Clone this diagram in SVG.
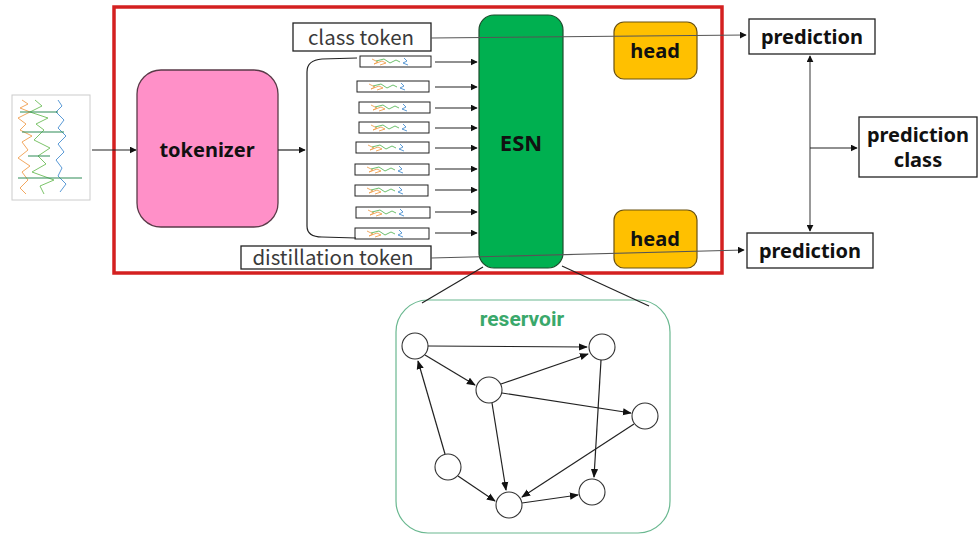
<svg xmlns="http://www.w3.org/2000/svg" width="978" height="535" viewBox="0 0 978 535">
<defs>
<style>
.ln{stroke:#222;stroke-width:1.2;fill:none}
.gl{stroke:#555;stroke-width:1.2;fill:none}
.box{fill:#fff;stroke:#222;stroke-width:1.3}
.tok{fill:#fff;stroke:#222;stroke-width:1}
.lbl{font-family:"Noto Sans","Liberation Sans",sans-serif;font-weight:bold;fill:#111;text-anchor:middle}
.reg{font-family:"Noto Sans CJK JP","Noto Sans",sans-serif;font-size:20.5px;fill:#3a3a3a;text-anchor:middle}
.nd{fill:#fff;stroke:#333;stroke-width:1.1}
</style>
<marker id="ah" viewBox="0 0 10 10" refX="9" refY="5" markerWidth="7" markerHeight="7" orient="auto-start-reverse" markerUnits="userSpaceOnUse">
<path d="M0,0 L10,5 L0,10 z" fill="#111"/>
</marker>
<marker id="ah2" viewBox="0 0 10 10" refX="9" refY="5" markerWidth="9" markerHeight="9" orient="auto-start-reverse" markerUnits="userSpaceOnUse">
<path d="M0,1 L10,5 L0,9 z" fill="#111"/>
</marker>
<symbol id="wave" viewBox="0 0 70 11" width="70" height="11">
<polyline points="12,3 18,6 14,8 22,5 26,7 20,9" fill="none" stroke="#f0a050" stroke-width="0.9"/>
<polyline points="16,5 24,3 30,7 36,4 40,6" fill="none" stroke="#5cb85c" stroke-width="0.9"/>
<polyline points="44,2 47,5 43,7 48,9" fill="none" stroke="#4a90d0" stroke-width="0.9"/>
</symbol>
</defs>
<rect width="978" height="535" fill="#fff"/>

<g id="frame"><rect x="114" y="7" width="608" height="266" fill="none" stroke="#d42020" stroke-width="3.5"/></g>

<g id="input">
<rect x="12" y="95" width="78" height="105" fill="#fff" stroke="#ccc" stroke-width="1"/>
<polyline points="22,100 28,104 20,108 30,112 18,118 26,124 20,130 32,136 22,142 28,150 18,158 30,166 22,172 28,180 20,188 26,194" fill="none" stroke="#f2a860" stroke-width="1"/>
<polyline points="35,100 42,106 30,112 48,118 36,124 44,130 34,140 50,148 38,156 46,164 32,172 54,180 40,186 44,194" fill="none" stroke="#7cc46a" stroke-width="1"/>
<polyline points="58,100 62,106 56,112 64,120 58,128 66,136 58,144 64,152 56,160 62,168 58,176 66,184 60,192" fill="none" stroke="#5a9ad6" stroke-width="1"/>
<path d="M20,112 H58 M22,132 H64 M28,156 H50 M18,178 H82" stroke="#2e8b57" stroke-width="1.2"/>
</g>

<g id="tokenizer">
<rect x="137" y="70" width="141" height="157" rx="24" fill="#ff90c8" stroke="#5a3a48" stroke-width="1.3"/>
<text class="lbl" x="207" y="157" font-size="20">tokenizer</text>
</g>

<g id="class-token"><rect class="box" x="293" y="23" width="138" height="28"/><text class="reg" x="361" y="45">class token</text></g>
<g id="distillation-token"><rect class="box" x="241" y="246" width="190" height="23"/><text class="reg" x="333" y="265">distillation token</text></g>

<g id="tokens">
<rect class="tok" x="360" y="56" width="71" height="11"/><use href="#wave" x="360" y="56"/>
<rect class="tok" x="357" y="81" width="72" height="11"/><use href="#wave" x="357" y="81"/>
<rect class="tok" x="359" y="102" width="71" height="11"/><use href="#wave" x="359" y="102"/>
<rect class="tok" x="359" y="122" width="70" height="11"/><use href="#wave" x="359" y="122"/>
<rect class="tok" x="356" y="142" width="73" height="11"/><use href="#wave" x="356" y="142"/>
<rect class="tok" x="355" y="164" width="74" height="11"/><use href="#wave" x="355" y="164"/>
<rect class="tok" x="355" y="185" width="73" height="11"/><use href="#wave" x="355" y="185"/>
<rect class="tok" x="356" y="207" width="74" height="11"/><use href="#wave" x="356" y="207"/>
<rect class="tok" x="355" y="228" width="74" height="11"/><use href="#wave" x="355" y="228"/>
</g>

<g id="esn">
<rect x="479" y="15" width="84" height="253" rx="15" fill="#00b050" stroke="#1d4d2d" stroke-width="1.2"/>
<text class="lbl" x="521" y="151" font-size="22">ESN</text>
</g>

<g id="head1"><rect x="614" y="22" width="83" height="57" rx="10" fill="#ffc000" stroke="#6b5210" stroke-width="1.2"/><text class="lbl" x="655" y="58" font-size="20">head</text></g>
<g id="head2"><rect x="614" y="210" width="83" height="58" rx="10" fill="#ffc000" stroke="#6b5210" stroke-width="1.2"/><text class="lbl" x="655" y="246" font-size="20">head</text></g>

<g id="prediction1"><rect class="box" x="749" y="19" width="126" height="35"/><text class="lbl" x="812" y="44" font-size="20">prediction</text></g>
<g id="prediction2"><rect class="box" x="747" y="233" width="126" height="35"/><text class="lbl" x="810" y="258" font-size="20">prediction</text></g>
<g id="prediction-class"><rect class="box" x="859" y="117" width="118" height="60"/><text class="lbl" x="918" y="142" font-size="20">prediction</text><text class="lbl" x="918" y="167" font-size="20">class</text></g>

<g id="reservoir">
<rect x="396" y="300" width="274" height="233" rx="32" fill="#fff" stroke="#6ab890" stroke-width="1.2"/>
<text x="522" y="326" font-family="Roboto,'Liberation Sans',sans-serif" font-weight="bold" font-size="21" fill="#3aa86b" text-anchor="middle">reservoir</text>
</g>
<g id="nodes">
<circle id="nA" class="nd" cx="415" cy="346" r="13"/>
<circle id="nB" class="nd" cx="602" cy="347" r="13"/>
<circle id="nC" class="nd" cx="489" cy="390" r="13"/>
<circle id="nD" class="nd" cx="645" cy="416" r="13"/>
<circle id="nE" class="nd" cx="448" cy="467" r="13"/>
<circle id="nF" class="nd" cx="509" cy="505" r="13"/>
<circle id="nG" class="nd" cx="592" cy="492" r="13"/>
</g>

<g id="connectors">
<line class="ln" x1="92" y1="150" x2="136" y2="150" marker-end="url(#ah)"/>
<line class="ln" x1="278" y1="150" x2="305" y2="150" marker-end="url(#ah)"/>
<path class="ln" d="M357,58 L322,59 Q307,60 307,72 L307,226 Q307,237 322,237 L356,238"/>
<line class="ln" x1="435" y1="62" x2="477" y2="62" marker-end="url(#ah)"/>
<line class="ln" x1="435" y1="87" x2="477" y2="87" marker-end="url(#ah)"/>
<line class="ln" x1="435" y1="108" x2="477" y2="108" marker-end="url(#ah)"/>
<line class="ln" x1="435" y1="128" x2="477" y2="128" marker-end="url(#ah)"/>
<line class="ln" x1="435" y1="148" x2="477" y2="148" marker-end="url(#ah)"/>
<line class="ln" x1="435" y1="169" x2="477" y2="169" marker-end="url(#ah)"/>
<line class="ln" x1="435" y1="190" x2="477" y2="190" marker-end="url(#ah)"/>
<line class="ln" x1="435" y1="212" x2="477" y2="212" marker-end="url(#ah)"/>
<line class="ln" x1="435" y1="233" x2="477" y2="233" marker-end="url(#ah)"/>
<line class="gl" x1="431" y1="38" x2="746" y2="35" marker-end="url(#ah)"/>
<line class="gl" x1="431" y1="258" x2="744" y2="250" marker-end="url(#ah)"/>
<line class="gl" x1="810" y1="56" x2="810" y2="231" marker-start="url(#ah)" marker-end="url(#ah)"/>
<line class="ln" x1="810" y1="148" x2="857" y2="148" marker-end="url(#ah)"/>
<line class="ln" x1="483" y1="267" x2="422" y2="303"/>
<line class="ln" x1="562" y1="266" x2="649" y2="306"/>
<line class="ln" x1="428" y1="346" x2="587" y2="347" marker-end="url(#ah2)"/>
<line class="ln" x1="425" y1="355" x2="475" y2="385" marker-end="url(#ah2)"/>
<line class="ln" x1="501" y1="384" x2="588" y2="354" marker-end="url(#ah2)"/>
<line class="ln" x1="502" y1="393" x2="631" y2="413" marker-end="url(#ah2)"/>
<line class="ln" x1="492" y1="403" x2="506" y2="490" marker-end="url(#ah2)"/>
<line class="ln" x1="601" y1="360" x2="594" y2="477" marker-end="url(#ah2)"/>
<line class="ln" x1="634" y1="424" x2="522" y2="497" marker-end="url(#ah2)"/>
<line class="ln" x1="445" y1="454" x2="418" y2="361" marker-end="url(#ah2)"/>
<line class="ln" x1="458" y1="476" x2="495" y2="501" marker-end="url(#ah2)"/>
<line class="ln" x1="522" y1="503" x2="578" y2="495" marker-end="url(#ah2)"/>
</g>
</svg>
